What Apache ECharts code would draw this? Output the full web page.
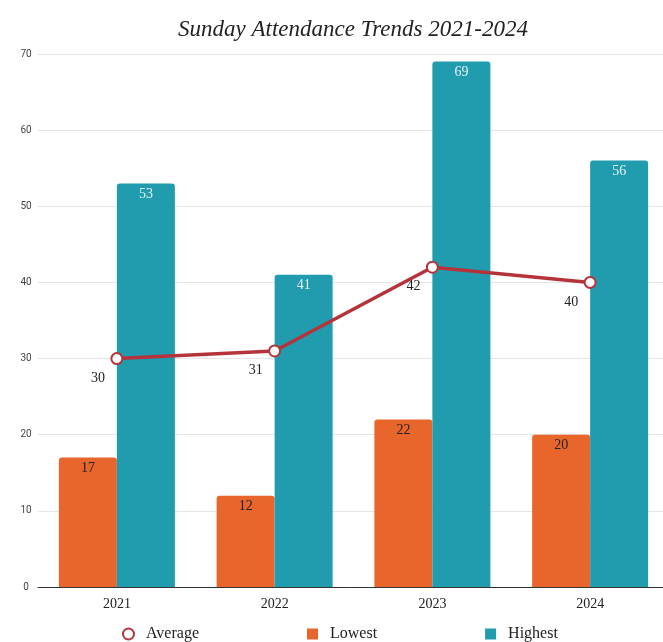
<!DOCTYPE html>
<html>
<head>
<meta charset="utf-8">
<script src="https://cdn.jsdelivr.net/npm/echarts@6/dist/echarts.min.js"></script>
<style>html,body{margin:0;padding:0;background:#fff;}#c{width:663px;height:642px;}</style>
</head>
<body>
<div id="c"></div>
<script>
const categories = ['2021', '2022', '2023', '2024'];
const lowest = [17, 12, 22, 20];
const highest = [53, 41, 69, 56];
const average = [30, 31, 42, 40];
const yTicks = { min: 0, max: 70, interval: 10 };

const serif = '"Liberation Serif", "DejaVu Serif", serif';
const chart = echarts.init(document.getElementById('c'));
chart.setOption({
  animation: false,
  backgroundColor: '#fff',
  title: {
    text: 'Sunday Attendance Trends 2021-2024',
    left: 348, top: 13, textAlign: 'center',
    textStyle: { fontFamily: serif, fontStyle: 'italic', fontWeight: 'normal', fontSize: 23, color: '#222' }
  },
  legend: {
    bottom: -5, left: 117,
    data: [{ name: 'Average', icon: 'emptyCircle' }, { name: 'Lowest', icon: 'rect' }, { name: 'Highest', icon: 'rect' }],
    itemWidth: 11, itemHeight: 11, itemGap: 108,
    textStyle: { fontFamily: serif, fontSize: 16, color: '#222', padding: [0, 0, 0, 7] }
  },
  grid: { left: 38, top: 54, right: -6, bottom: 55, containLabel: false, outerBoundsMode: 'none' },
  xAxis: {
    type: 'category', data: categories,
    axisLine: { lineStyle: { color: '#333', width: 1 } },
    axisTick: { show: false },
    axisLabel: { fontFamily: serif, fontSize: 14, color: '#222', margin: 10 }
  },
  yAxis: {
    type: 'value', min: yTicks.min, max: yTicks.max, interval: yTicks.interval,
    axisLine: { show: false }, axisTick: { show: false },
    splitLine: { lineStyle: { color: '#e6e6e6', width: 1 } },
    axisLabel: { fontFamily: 'Roboto, "Liberation Sans", sans-serif', fontSize: 10, color: '#444', margin: 12, align: 'center' }
  },
  series: [
    {
      name: 'Lowest', type: 'bar', data: lowest, barWidth: 58, barGap: '0%',
      itemStyle: { color: '#E8652C', borderRadius: [3, 3, 0, 0] },
      label: { show: true, position: 'insideTop', distance: 4, fontFamily: serif, fontSize: 14, color: '#222' }
    },
    {
      name: 'Highest', type: 'bar', data: highest, barWidth: 58,
      itemStyle: { color: '#219CAF', borderRadius: [3, 3, 0, 0] },
      label: { show: true, position: 'insideTop', distance: 4, fontFamily: serif, fontSize: 14, color: '#e8f4f4' }
    },
    {
      name: 'Average', type: 'line', data: average, z: 5,
      lineStyle: { color: '#B5343C', width: 3.5 },
      itemStyle: { color: '#B5343C', borderColor: '#B5343C', borderWidth: 3 },
      symbol: 'emptyCircle', symbolSize: 11,
      label: { show: true, position: 'bottom', offset: [-19, 0], distance: 6, fontFamily: serif, fontSize: 14, color: '#222' }
    }
  ]
});
</script>
</body>
</html>
